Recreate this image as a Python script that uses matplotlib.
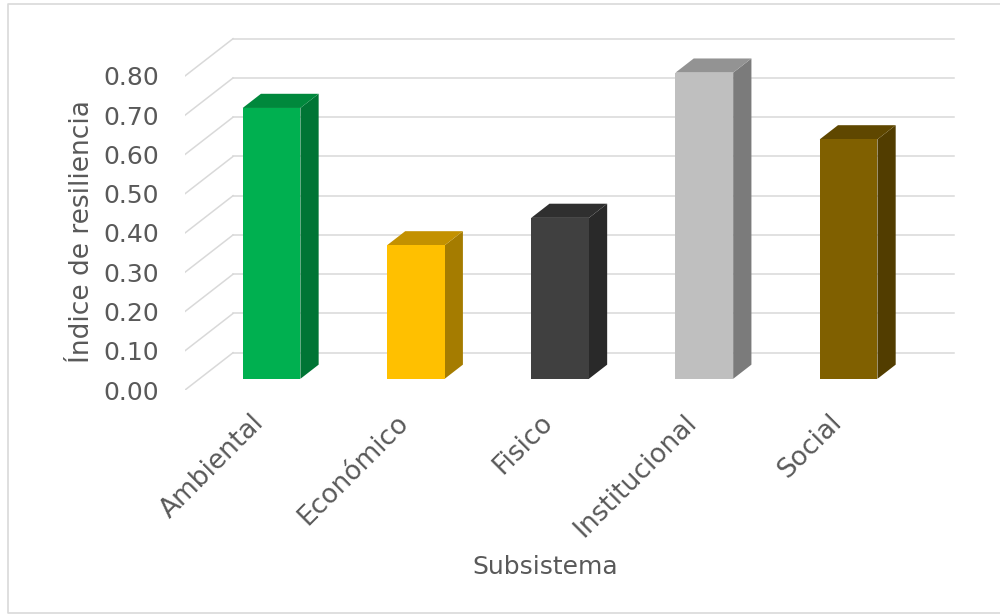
import matplotlib
matplotlib.use("Agg")
import matplotlib.pyplot as plt
from matplotlib.patches import Polygon
from matplotlib.lines import Line2D
from matplotlib.transforms import ScaledTranslation

plt.rcParams['font.family'] = 'DejaVu Sans'

# data
categories = ['Ambiental', 'Económico', 'Fisico', 'Institucional', 'Social']
values = [0.69, 0.34, 0.41, 0.78, 0.61]
yticks = [0.0, 0.1, 0.2, 0.3, 0.4, 0.5, 0.6, 0.7, 0.8]

front_col = ['#00B050', '#FFC000', '#404040', '#BFBFBF', '#806000']
side_col = ['#007535', '#A57C00', '#292929', '#7B7B7B', '#523D00']
top_col = ['#00883C', '#C39100', '#2F2F2F', '#939393', '#5F4700']

txt = '#595959'
grid = '#D9D9D9'

# fake 3d: depth offset in data units, bar sits between depth f1 and f2
dx, dy = 0.333, 0.095
f1, f2 = 0.30, 0.68
w = 0.4

fig = plt.figure(figsize=(10, 6.14), dpi=100)
ax = fig.add_axes([0.185, 0.3648, 0.779, 0.5754])
ax.set_xlim(0, 5.4)
ax.set_ylim(0, 0.9)
for s in ax.spines.values():
    s.set_visible(False)

n = len(categories)
# gridlines: slanted side wall segment + back wall line
for v in yticks:
    ax.plot([0, dx], [v, v + dy], color=grid, lw=1.1, zorder=1)
    ax.plot([dx, n + dx], [v + dy, v + dy], color=grid, lw=1.1, zorder=1)

xs = [i + 0.5 + f1 * dx for i in range(n)]
ax.bar(xs, values, width=w, bottom=f1 * dy, color=front_col, zorder=3)
ddx = (f2 - f1) * dx
ddy = (f2 - f1) * dy
for i, v in enumerate(values):
    xr = xs[i] + w / 2
    xl = xs[i] - w / 2
    yb = f1 * dy
    side = Polygon([(xr, yb), (xr + ddx, yb + ddy), (xr + ddx, v + yb + ddy), (xr, v + yb)],
                   closed=True, facecolor=side_col[i], edgecolor='none', zorder=2.5)
    top = Polygon([(xl, v + yb), (xr, v + yb), (xr + ddx, v + yb + ddy), (xl + ddx, v + yb + ddy)],
                  closed=True, facecolor=top_col[i], edgecolor='none', zorder=2.6)
    ax.add_patch(side)
    ax.add_patch(top)

ax.set_yticks(yticks)
ax.set_yticklabels(['%.2f' % t for t in yticks])
ax.tick_params(axis='y', length=0, pad=18.5, labelsize=18, labelcolor=txt)

ax.set_xticks([i + 0.5 for i in range(n)])
ax.set_xticklabels(categories, rotation=45, ha='right', va='top', rotation_mode='anchor')
ax.tick_params(axis='x', length=0, pad=14, labelsize=19, labelcolor=txt)
for lab in ax.get_xticklabels():
    lab.set_transform(lab.get_transform() + ScaledTranslation(-0.06, 0, fig.dpi_scale_trans))

fig.text(0.082, 1 - 231.5 / 614, 'Índice de resiliencia', rotation=90, ha='center', va='center',
         fontsize=19, color=txt)
fig.text(0.545, 1 - 567 / 614, 'Subsistema', ha='center', va='center', fontsize=18, color=txt)

# outer chart border (right side runs off the image)
l, t, b = 0.008, 1 - 4 / 614, 1 - 612.5 / 614
fig.add_artist(Line2D([1.0, l, l, 1.0], [t, t, b, b], transform=fig.transFigure,
                      color=grid, lw=1.2))

fig.savefig('out.png', dpi=100, facecolor='white')
